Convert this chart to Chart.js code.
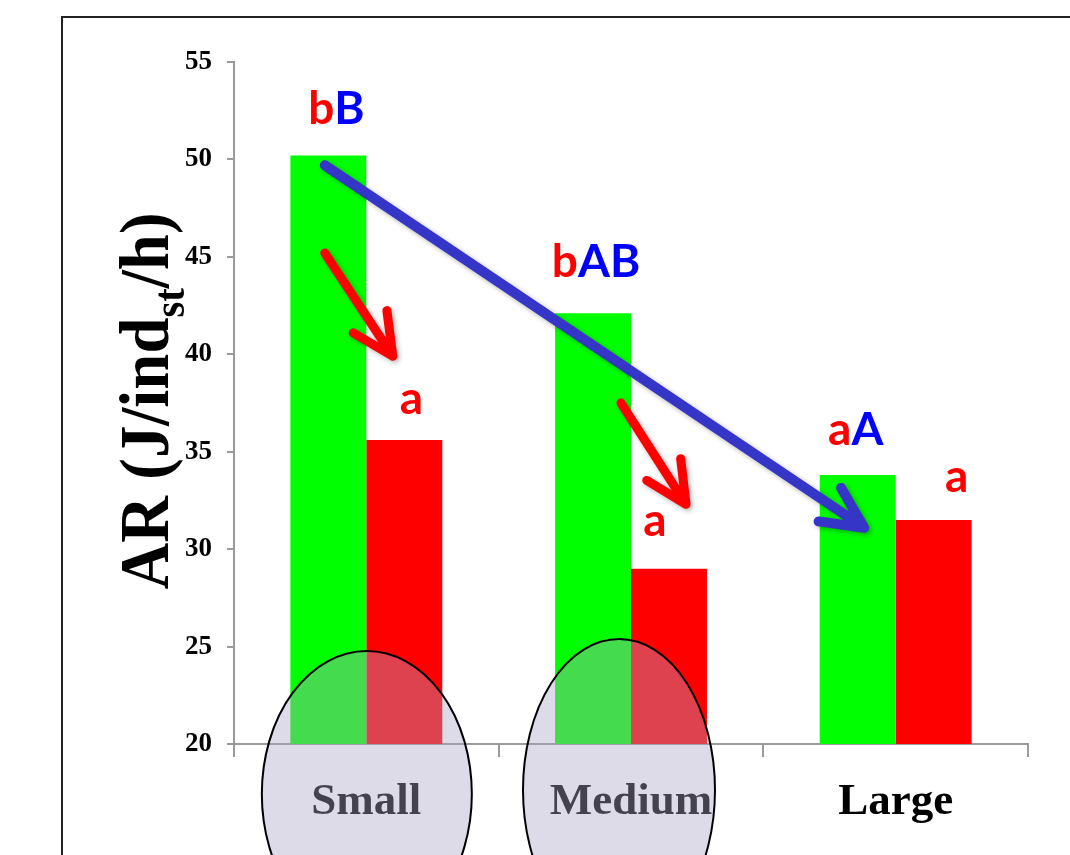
<!DOCTYPE html>
<html>
<head>
<meta charset="utf-8">
<script src="https://cdn.jsdelivr.net/npm/chart.js@4.4.1/dist/chart.umd.min.js"></script>
<style>
  html, body { margin: 0; padding: 0; background: #ffffff; }
  #wrap { position: relative; width: 1070px; height: 855px; }
</style>
</head>
<body>
<div id="wrap"><canvas id="c"></canvas></div>
<script>
// Size classes and assimilation rate per class
const categories = ['Small', 'Medium', 'Large'];
const greenValues = [50.2, 42.1, 33.8];
const redValues = [35.6, 29.0, 31.5];
const yMin = 20, yMax = 55, yStep = 5;

// Significance letters: lowercase (red) and uppercase (blue) groups
const greenLower = ['b', 'b', 'a'];
const greenUpper = ['B', 'AB', 'A'];
const redLower = ['a', 'a', 'a'];

// Label placement relative to each bar top (px)
const greenLabelShift = [[8, -32], [3, -36], [-2, -30]];
const redLabelShift = [[7, -26], [-14, -33], [23, -28]];

// Arrows: [category, offset as fraction of category width, value]
const arrows = [
  { color: 'rgb(53,53,200)', width: 10, from: [0, -0.157, 49.7], to: [2, -0.119, 31.1] },
  { color: 'rgb(255,0,0)', width: 9, from: [0, -0.157, 45.2], to: [0, 0.10, 39.9] },
  { color: 'rgb(255,0,0)', width: 9, from: [1, -0.038, 37.5], to: [1, 0.208, 32.3] }
];

// Highlight ellipses around category labels
const highlights = [
  { cat: 0, dx: 0.5, cy: 794, rx: 105, ry: 143 },
  { cat: 1, dx: -12, cy: 790, rx: 96, ry: 151 }
];

const serif = '"Liberation Serif", "Times New Roman", serif';
const sans = 'Lato, "Open Sans", sans-serif';

const decorations = {
  id: 'decorations',
  beforeDraw(chart) {
    const ctx = chart.ctx;
    ctx.save();
    ctx.strokeStyle = '#222';
    ctx.lineWidth = 2;
    ctx.beginPath();
    ctx.moveTo(62, 860);
    ctx.lineTo(62, 17);
    ctx.lineTo(1075, 17);
    ctx.stroke();
    ctx.restore();
  },
  afterDatasetsDraw(chart) {
    const ctx = chart.ctx;
    const xs = chart.scales.x, ys = chart.scales.y;
    const catW = (xs.right - xs.left) / categories.length;

    // arrows
    arrows.forEach(a => {
      const x1 = xs.getPixelForValue(a.from[0]) + a.from[1] * catW;
      const y1 = ys.getPixelForValue(a.from[2]);
      const x2 = xs.getPixelForValue(a.to[0]) + a.to[1] * catW;
      const y2 = ys.getPixelForValue(a.to[2]);
      const ang = Math.atan2(y2 - y1, x2 - x1);
      const head = 46, spread = 26 * Math.PI / 180;
      ctx.save();
      ctx.strokeStyle = a.color;
      ctx.lineWidth = a.width;
      ctx.lineCap = 'round';
      ctx.lineJoin = 'round';
      ctx.shadowColor = 'rgba(0,0,0,0.3)';
      ctx.shadowBlur = 5;
      ctx.shadowOffsetX = 2;
      ctx.shadowOffsetY = 2;
      ctx.beginPath();
      ctx.moveTo(x1, y1);
      ctx.lineTo(x2, y2);
      ctx.moveTo(x2 - head * Math.cos(ang - spread), y2 - head * Math.sin(ang - spread));
      ctx.lineTo(x2, y2);
      ctx.lineTo(x2 - head * Math.cos(ang + spread), y2 - head * Math.sin(ang + spread));
      ctx.stroke();
      ctx.restore();
    });

    // letters
    ctx.save();
    ctx.font = 'bold 46px ' + sans;
    ctx.textBaseline = 'alphabetic';
    const gMeta = chart.getDatasetMeta(0), rMeta = chart.getDatasetMeta(1);
    gMeta.data.forEach((bar, i) => {
      const lo = greenLower[i], up = greenUpper[i];
      const w1 = ctx.measureText(lo).width, w2 = ctx.measureText(up).width;
      const cx = bar.x + greenLabelShift[i][0];
      const by = bar.y + greenLabelShift[i][1];
      const x0 = cx - (w1 + w2) / 2;
      ctx.textAlign = 'left';
      ctx.fillStyle = '#ff0000';
      ctx.fillText(lo, x0, by);
      ctx.fillStyle = '#0000ff';
      ctx.fillText(up, x0 + w1, by);
    });
    rMeta.data.forEach((bar, i) => {
      ctx.textAlign = 'center';
      ctx.fillStyle = '#ff0000';
      ctx.fillText(redLower[i], bar.x + redLabelShift[i][0], bar.y + redLabelShift[i][1]);
    });
    ctx.restore();
  },
  afterDraw(chart) {
    const ctx = chart.ctx;
    const xs = chart.scales.x;

    // y-axis title with subscript
    ctx.save();
    const big = 'bold 70px ' + serif, small = 'bold 44px ' + serif;
    const parts = [['AR (J/ind', big, 0], ['st', small, 16], ['/h)', big, 0]];
    let total = 0;
    parts.forEach(p => { ctx.font = p[1]; p.push(ctx.measureText(p[0]).width); total += p[3]; });
    const targetLen = 377;
    ctx.translate(168, 401);
    ctx.rotate(-Math.PI / 2);
    ctx.scale(targetLen / total, 1);
    ctx.fillStyle = '#000';
    ctx.textAlign = 'left';
    ctx.textBaseline = 'alphabetic';
    let px = -total / 2;
    parts.forEach(p => {
      ctx.font = p[1];
      ctx.fillText(p[0], px, p[2]);
      px += p[3];
    });
    ctx.restore();

    // highlight ellipses over labels
    highlights.forEach(h => {
      const cx = xs.getPixelForValue(h.cat) + h.dx;
      ctx.save();
      ctx.beginPath();
      ctx.ellipse(cx, h.cy, h.rx, h.ry, 0, 0, Math.PI * 2);
      ctx.fillStyle = 'rgba(172,166,198,0.4)';
      ctx.fill();
      ctx.strokeStyle = '#000';
      ctx.lineWidth = 2;
      ctx.stroke();
      ctx.restore();
    });
  }
};

new Chart(document.getElementById('c'), {
  type: 'bar',
  data: {
    labels: categories,
    datasets: [
      { data: greenValues, backgroundColor: '#00ff00', borderWidth: 0 },
      { data: redValues, backgroundColor: '#ff0000', borderWidth: 0 }
    ]
  },
  options: {
    responsive: true,
    maintainAspectRatio: false,
    animation: false,
    layout: { padding: { left: 0, top: 62, right: 42, bottom: 0 } },
    plugins: { legend: { display: false }, tooltip: { enabled: false } },
    datasets: { bar: { categoryPercentage: 0.574, barPercentage: 1.0 } },
    scales: {
      x: {
        afterFit(scale) { scale.height = 111; },
        grid: { drawOnChartArea: false, drawTicks: true, tickLength: 13, color: '#9a9a9a', lineWidth: 2, offset: true },
        border: { color: '#9a9a9a', width: 2 },
        ticks: { color: '#000', padding: 18, font: { family: serif, size: 45, weight: 'bold' } }
      },
      y: {
        min: yMin, max: yMax,
        afterFit(scale) { scale.width = 234; },
        grid: { drawOnChartArea: false, drawTicks: true, tickLength: 7, color: '#9a9a9a', lineWidth: 2 },
        border: { color: '#9a9a9a', width: 2 },
        ticks: { stepSize: yStep, color: '#000', padding: 15, font: { family: serif, size: 27, weight: 'bold' } }
      }
    }
  },
  plugins: [decorations]
});
</script>
</body>
</html>
